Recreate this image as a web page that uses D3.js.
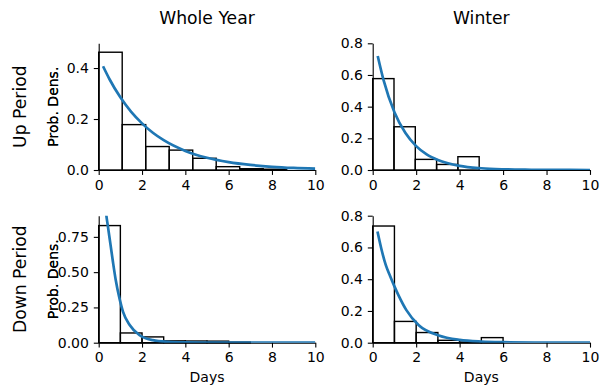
<!DOCTYPE html>
<html>
<head>
<meta charset="utf-8">
<script src="https://cdn.jsdelivr.net/npm/d3@7"></script>
<style>
    body { margin: 0; background: #fff; }
    text { font-family: 'DejaVu Sans', sans-serif; fill: #000; }
</style>
</head>
<body>
<div id="chart"></div>
<script>
// column / row titles
const colTitles = ['Whole Year', 'Winter'];
const rowTitles = ['Up Period', 'Down Period'];
const xTicks = [0, 2, 4, 6, 8, 10];

// histogram bin edges and densities
const upYearEdges = [0, 1.085, 2.17, 3.255, 4.34, 5.425, 6.51, 7.595, 8.68];
const upYearDens = [0.462, 0.178, 0.092, 0.078, 0.046, 0.013, 0.005, 0.003];
const upWinterEdges = [0, 0.98, 1.96, 2.94, 3.92, 4.9];
const upWinterDens = [0.577, 0.273, 0.067, 0.035, 0.084];
const downYearEdges = [0, 1, 2, 3, 4, 5, 6, 7];
const downYearDens = [0.830, 0.069, 0.041, 0.013, 0.012, 0.011, 0.004];
const downWinterEdges = [0, 1, 2, 3, 4, 5, 6];
const downWinterDens = [0.735, 0.134, 0.064, 0.015, 0.004, 0.032];

// fitted curves, sampled from the figure
const upYearFitX = [0.2, 0.5, 1, 1.5, 2, 2.5, 3, 4, 5, 6, 7, 8, 9, 10];
const upYearFitY = [0.407, 0.356, 0.285, 0.228, 0.183, 0.146, 0.117, 0.075, 0.048, 0.031, 0.020, 0.0126, 0.008, 0.0052];
const upWinterFitX = [0.23, 0.5, 1, 1.5, 2, 2.5, 3, 4, 5, 6, 7, 8, 10];
const upWinterFitY = [0.72, 0.567, 0.365, 0.235, 0.151, 0.097, 0.063, 0.026, 0.011, 0.0045, 0.0018, 0.0008, 0.0001];
const downYearFitX = [0.23, 0.34, 0.42, 0.55, 0.66, 0.78, 0.97, 1.12, 1.43, 1.89, 2.5, 3.2, 4, 5, 6, 8, 10];
const downYearFitY = [1.16, 0.92, 0.83, 0.69, 0.57, 0.45, 0.307, 0.22, 0.125, 0.053, 0.018, 0.006, 0.002, 0.0005, 0.0001, 0, 0];
const downWinterFitX = [0.22, 0.4, 0.6, 0.8, 1.0, 1.2, 1.55, 2.12, 3.04, 4, 5, 6, 8, 10];
const downWinterFitY = [0.70, 0.59, 0.49, 0.42, 0.355, 0.295, 0.205, 0.11, 0.046, 0.018, 0.007, 0.003, 0.0005, 0.0001];

// y axis ticks per panel
const upYearTicks = [0, 0.2, 0.4];
const winterTicks = [0, 0.2, 0.4, 0.6, 0.8];
const downYearTicks = [0, 0.25, 0.5, 0.75];

const panels = [
    {row: 0, col: 0, edges: upYearEdges, dens: upYearDens, fx: upYearFitX, fy: upYearFitY, ymax: 0.497, yTicks: upYearTicks, fmt: '.1f'},
    {row: 0, col: 1, edges: upWinterEdges, dens: upWinterDens, fx: upWinterFitX, fy: upWinterFitY, ymax: 0.8, yTicks: winterTicks, fmt: '.1f'},
    {row: 1, col: 0, edges: downYearEdges, dens: downYearDens, fx: downYearFitX, fy: downYearFitY, ymax: 0.9, yTicks: downYearTicks, fmt: '.2f'},
    {row: 1, col: 1, edges: downWinterEdges, dens: downWinterDens, fx: downWinterFitX, fy: downWinterFitY, ymax: 0.8, yTicks: winterTicks, fmt: '.1f'}
];

const W = 605, H = 385;
const cols = [{left: 98.7, right: 315.3}, {left: 372.7, right: 590}];
const rows = [{top: 43.3, bottom: 170}, {top: 215.7, bottom: 342.7}];
const tickLen = 4.9, lw = 1.1;

const svg = d3.select('#chart')
    .append('svg')
    .attr('width', W)
    .attr('height', H);

panels.forEach((p, i) => {
    const c = cols[p.col], r = rows[p.row];
    const width = c.right - c.left, height = r.bottom - r.top;
    const xScale = d3.scaleLinear().domain([0, 10]).range([0, width]);
    const yScale = d3.scaleLinear().domain([0, p.ymax]).range([height, 0]);

    const g = svg.append('g').attr('transform', `translate(${c.left},${r.top})`);

    g.append('clipPath').attr('id', 'clip' + i)
        .append('rect').attr('x', 0).attr('y', 0).attr('width', width).attr('height', height);

    // histogram bars
    const bins = p.dens.map((d, k) => ({x0: p.edges[k], x1: p.edges[k + 1], v: d}));
    g.selectAll('.bar')
        .data(bins)
        .enter()
        .append('rect')
        .attr('class', 'bar')
        .attr('x', d => xScale(d.x0))
        .attr('y', d => yScale(d.v))
        .attr('width', d => xScale(d.x1) - xScale(d.x0))
        .attr('height', d => yScale(0) - yScale(d.v))
        .attr('fill', 'none')
        .attr('stroke', '#000')
        .attr('stroke-width', 1.4);

    // axes (left + bottom spines only)
    const xAxis = g.append('g')
        .attr('transform', `translate(0,${height})`)
        .call(d3.axisBottom(xScale).tickValues(xTicks).tickFormat(d3.format('d'))
            .tickSize(tickLen).tickSizeOuter(0).tickPadding(4.9));
    const yAxis = g.append('g')
        .call(d3.axisLeft(yScale).tickValues(p.yTicks).tickFormat(d3.format(p.fmt))
            .tickSize(tickLen).tickSizeOuter(0).tickPadding(4.9));
    [xAxis, yAxis].forEach(a => {
        a.select('.domain').attr('stroke', '#000').attr('stroke-width', lw);
        a.selectAll('.tick line').attr('stroke', '#000').attr('stroke-width', lw);
        a.selectAll('.tick text').style('font-size', '14px').attr('fill', '#000');
        a.attr('font-family', null).attr('font-size', null);
    });

    // fitted density curve
    const pts = p.fx.map((x, k) => [x, p.fy[k]]);
    g.append('path')
        .datum(pts)
        .attr('clip-path', `url(#clip${i})`)
        .attr('fill', 'none')
        .attr('stroke', '#1f77b4')
        .attr('stroke-width', 2.7)
        .attr('d', d3.line().x(d => xScale(d[0])).y(d => yScale(d[1])).curve(d3.curveMonotoneX));

    // y label
    svg.append('text')
        .attr('transform', `translate(57.5,${(r.top + r.bottom) / 2}) rotate(-90)`)
        .attr('text-anchor', 'middle')
        .style('font-size', '14px')
        .text('Prob. Dens.');
});

colTitles.forEach((t, k) => {
    const cx = (cols[k].left + cols[k].right) / 2;
    svg.append('text')
        .attr('x', cx).attr('y', 23.5)
        .attr('text-anchor', 'middle')
        .style('font-size', '17.2px')
        .text(t);
    svg.append('text')
        .attr('x', cx).attr('y', 382)
        .attr('text-anchor', 'middle')
        .style('font-size', '14px')
        .text('Days');
});

rowTitles.forEach((t, k) => {
    svg.append('text')
        .attr('transform', `translate(25.5,${(rows[k].top + rows[k].bottom) / 2}) rotate(-90)`)
        .attr('text-anchor', 'middle')
        .style('font-size', '17.2px')
        .text(t);
});
</script>
</body>
</html>
